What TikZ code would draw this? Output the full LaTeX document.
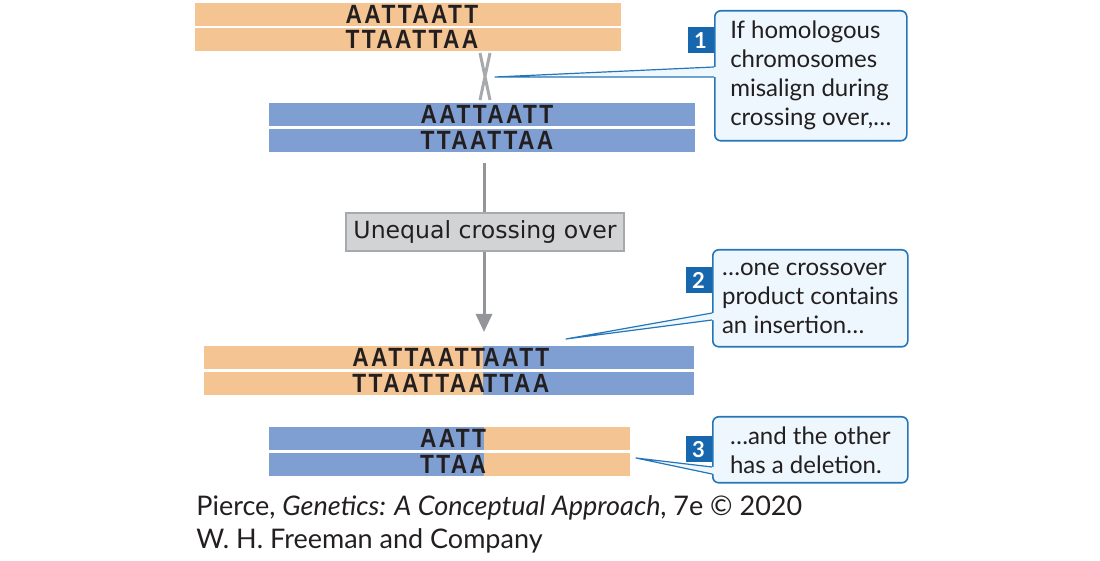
\documentclass[tikz,border=0pt]{standalone}
\usepackage{fontspec}
\setmainfont{Lato}
\newfontfamily\strandfont[FakeStretch=0.86, LetterSpace=9]{Liberation Sans}
\newfontfamily\labelfont{DejaVu Sans}
\usetikzlibrary{arrows.meta,positioning}

\definecolor{strandorange}{HTML}{F4C493}
\definecolor{strandblue}{HTML}{7F9FD3}
\definecolor{inkblack}{HTML}{231F20}
\definecolor{arrowgray}{HTML}{939598}
\definecolor{labelfill}{HTML}{D1D3D4}
\definecolor{labeldraw}{HTML}{A7A9AC}
\definecolor{calloutfill}{HTML}{EEF7FD}
\definecolor{calloutblue}{HTML}{2576B8}
\definecolor{numblue}{HTML}{1767AE}

\tikzset{
  ostrand/.style={fill=strandorange, inner sep=0pt, minimum height=11.5pt, anchor=north west},
  bstrand/.style={fill=strandblue, inner sep=0pt, minimum height=11.5pt, anchor=north west},
  seq/.style={font=\strandfont\bfseries\fontsize{13.2}{14}\selectfont, text=inkblack, inner sep=0pt},
  callout/.style={draw=calloutblue, fill=calloutfill, line width=0.8pt, rounded corners=3pt,
    anchor=north west, align=left, inner sep=0pt, text=inkblack,
    font=\fontsize{12}{14.5}\selectfont},
  stepnum/.style={fill=numblue, text=white, font=\bfseries\fontsize{11}{12}\selectfont,
    minimum size=13pt, inner sep=0pt, anchor=north east},
  pointer/.style={draw=calloutblue, line width=0.6pt, line join=round},
  credit/.style={anchor=base west, inner sep=0pt, text=inkblack, font=\fontsize{13.5}{16}\selectfont},
}

\begin{document}
\begin{tikzpicture}[x=0.5pt,y=-0.5pt]
\useasboundingbox (0,0) rectangle (1100,561);

% homologous chromosomes, misaligned
\node[ostrand, minimum width=213pt] (o1) at (195,3) {};
\node[ostrand, minimum width=213pt] (o2) at (195,28) {};
\node[seq] (o1t) at (412,14.5) {AATTAATT};
\node[seq] (o2t) at (412,39.5) {TTAATTAA};
\node[bstrand, minimum width=213pt] (b1) at (269,103) {};
\node[bstrand, minimum width=213pt] (b2) at (269,129) {};
\node[seq] (b1t) at (487,114.5) {AATTAATT};
\node[seq] (b2t) at (487,140.5) {TTAATTAA};

% crossover
\draw[labeldraw, line width=1.5pt] (480,53) -- (490,100) (490,53) -- (480,100);

% unequal crossing over
\node[fill=labelfill, draw=labeldraw, line width=0.6pt, minimum width=139pt, minimum height=19pt,
  inner sep=0pt, font=\labelfont\fontsize{11.8}{14}\selectfont, text=inkblack] (lab) at (485,232)
  {Unequal crossing over};
\coordinate (arrtop) at (484,163);
\coordinate (arrtip) at (484,332);
\draw[arrowgray, line width=1.5pt] (arrtop) -- (arrtop |- lab.north);
\draw[arrowgray, line width=1.5pt, -{Triangle[width=8pt,length=9pt]}] (arrtop |- lab.south) -- (arrtip);

% product with insertion
\node[ostrand, minimum width=139.5pt] (pa1) at (204,346) {};
\node[bstrand, minimum width=105.5pt] (pb1) at (483,346) {};
\node[ostrand, minimum width=139.5pt] (pa2) at (204,372) {};
\node[bstrand, minimum width=105.5pt] (pb2) at (483,372) {};
\node[seq, anchor=east] (pa1t) at (485.5,357.5) {AATTAATT};
\node[seq, anchor=west] (pb1t) at (483,357.5) {AATT};
\node[seq, anchor=east] (pa2t) at (485.5,383.5) {TTAATTAA};
\node[seq, anchor=west] (pb2t) at (483,383.5) {TTAA};

% product with deletion
\node[bstrand, minimum width=107.5pt] (qb1) at (269,427) {};
\node[ostrand, minimum width=73pt] (qa1) at (484,427) {};
\node[bstrand, minimum width=107.5pt] (qb2) at (269,453) {};
\node[ostrand, minimum width=73pt] (qa2) at (484,453) {};
\node[seq, anchor=east] (qb1t) at (486.5,438.5) {AATT};
\node[seq, anchor=east] (qb2t) at (486.5,464.5) {TTAA};

% callouts
\node[callout, minimum width=96pt, minimum height=65pt] (c1) at (714,10)
  {If homologous\\chromosomes\\misalign during\\crossing over,…};
\coordinate (p1) at (495,77);
\fill[calloutfill] (p1) -- (716,67) -- (716,77) -- cycle;
\draw[pointer] (c1.west |- 0,67) -- (p1) -- (c1.west |- 0,77);
\node[stepnum] (n1) at (c1.north west |- 0,27) {1};

\node[callout, minimum width=97.5pt, minimum height=48.5pt] (c2) at (712,249)
  {…one crossover\\product contains\\an insertion…};
\coordinate (p2) at (566,339);
\fill[calloutfill] (p2) -- (714,313) -- (714,320) -- cycle;
\draw[pointer] (c2.west |- 0,313) -- (p2) -- (c2.west |- 0,320);
\node[stepnum] (n2) at (c2.north west |- 0,267) {2};

\node[callout, minimum width=97.5pt, minimum height=33pt] (c3) at (712,416)
  {…and the other\\has a deletion.};
\coordinate (p3) at (636,458);
\fill[calloutfill] (p3) -- (714,467) -- (714,474) -- cycle;
\draw[pointer] (c3.west |- 0,467) -- (p3) -- (c3.west |- 0,474);
\node[stepnum] (n3) at (c3.north west |- 0,436) {3};

% credit
\node[credit] (cr1) at (196,516) {Pierce, \textit{Genetics: A Conceptual Approach}, 7e © 2020};
\node[credit] (cr2) at (196,549) {W. H. Freeman and Company};
\end{tikzpicture}
\end{document}
